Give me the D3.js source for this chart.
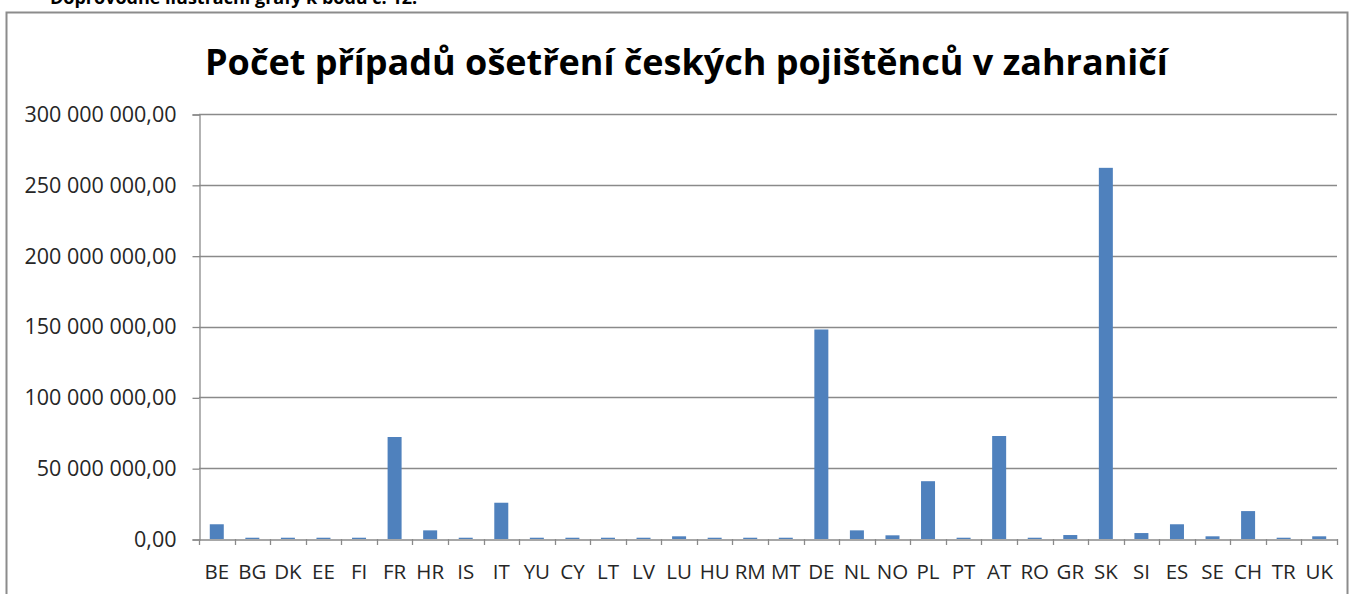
<!DOCTYPE html>
<html>
<head>
<meta charset="utf-8">
<script src="https://cdn.jsdelivr.net/npm/d3@7"></script>
<style>
  body { margin: 0; background: #fff; }
  svg { display: block; }
</style>
</head>
<body>
<svg id="chart"></svg>
<script>
var countries = ['BE', 'BG', 'DK', 'EE', 'FI', 'FR', 'HR', 'IS', 'IT', 'YU', 'CY', 'LT', 'LV', 'LU', 'HU', 'RM',
                 'MT', 'DE', 'NL', 'NO', 'PL', 'PT', 'AT', 'RO', 'GR', 'SK', 'SI', 'ES', 'SE', 'CH', 'TR', 'UK'];
var values = [10400000, 900000, 900000, 900000, 900000, 72000000, 6100000, 900000, 25600000, 900000, 900000,
              900000, 900000, 1900000, 900000, 900000, 900000, 147900000, 6100000, 2600000, 40800000, 900000,
              72700000, 900000, 2800000, 262000000, 4200000, 10400000, 1900000, 19700000, 900000, 1900000];
var yTicks = [0, 50000000, 100000000, 150000000, 200000000, 250000000, 300000000];

var width = 1353;
var height = 594;
var left = 199;   // plot area left edge
var right = 1337; // plot area right edge
var top_y = 114;  // 300 000 000 gridline
var base_y = 539; // zero line
var bar_width = 14;

var svg = d3.select('#chart')
            .attr('width', width)
            .attr('height', height);

// caption above the chart frame, cut off by the page edge as in the scan
svg.append('text')
   .attr('x', 50)
   .attr('y', 4)
   .attr('font-family', 'Open Sans')
   .attr('font-weight', 'bold')
   .attr('font-size', 18)
   .attr('fill', '#000')
   .text('Doprovodné ilustrační grafy k bodu č. 12.');

// chart frame
svg.append('rect')
   .attr('x', 6.5)
   .attr('y', 12.5)
   .attr('width', 1341)
   .attr('height', 600)
   .attr('fill', '#fff')
   .attr('stroke', '#8c8c8c')
   .attr('stroke-width', 2);

var title = svg.append('text')
   .attr('x', 205)
   .attr('y', 75)
   .attr('font-family', 'Open Sans')
   .attr('font-weight', 'bold')
   .attr('font-size', 36)
   .attr('fill', '#000')
   .text('Počet případů ošetření českých pojištěnců v zahraničí');
var tw = title.node().getComputedTextLength();
title.attr('font-size', 36 * 963 / tw);

var x = d3.scaleBand()
          .domain(countries)
          .range([left, right]);

var y = d3.scaleLinear()
          .domain([0, 300000000])
          .range([base_y, top_y]);

var fmt = function(v){
  var s = d3.format(',.2f')(v);
  return s.replace(/,/g, ' ').replace('.', ',');
};

// gridlines
svg.append('g')
   .selectAll('line')
   .data(yTicks.slice(1))
   .enter()
   .append('line')
   .attr('x1', left)
   .attr('x2', right)
   .attr('y1', function(d){ return Math.round(y(d)) + 0.5; })
   .attr('y2', function(d){ return Math.round(y(d)) + 0.5; })
   .attr('stroke', '#8a8a8a')
   .attr('stroke-width', 1.3);

// y axis
var yAxis = svg.append('g')
   .attr('transform', 'translate(' + (left + 0.5) + ',0.5)')
   .call(d3.axisLeft(y).tickValues(yTicks).tickSize(7).tickPadding(16).tickFormat(fmt));
yAxis.select('.domain').attr('stroke', '#8a8a8a').attr('stroke-width', 1.3);
yAxis.selectAll('.tick line').attr('stroke', '#8a8a8a').attr('stroke-width', 1.3);
yAxis.selectAll('.tick text')
     .attr('font-family', 'Open Sans')
     .attr('font-size', 21.5)
     .attr('fill', '#262626');

// bars
svg.selectAll('rect.bar')
   .data(values)
   .enter()
   .append('rect')
   .attr('class', 'bar')
   .attr('x', function(d, i){ return x(countries[i]) + (x.bandwidth() - bar_width) / 2; })
   .attr('y', function(d){ return y(d); })
   .attr('width', bar_width)
   .attr('height', function(d){ return base_y - y(d); })
   .attr('fill', '#4f81bd');

// x axis
var xAxis = svg.append('g')
   .attr('transform', 'translate(0,' + (base_y + 0.5) + ')')
   .call(d3.axisBottom(x).tickSize(0).tickPadding(25));
xAxis.select('.domain').attr('stroke', '#8a8a8a').attr('stroke-width', 1.3);
xAxis.selectAll('.tick text')
     .attr('font-family', 'Open Sans')
     .attr('font-size', 20.5)
     .attr('fill', '#262626');

// category separators under the zero line
svg.append('g')
   .selectAll('line')
   .data(countries.concat(['end']))
   .enter()
   .append('line')
   .attr('x1', function(d, i){ return Math.round(left + i * x.step()) + 0.5; })
   .attr('x2', function(d, i){ return Math.round(left + i * x.step()) + 0.5; })
   .attr('y1', base_y)
   .attr('y2', base_y + 6)
   .attr('stroke', '#8a8a8a')
   .attr('stroke-width', 1.3);
</script>
</body>
</html>
